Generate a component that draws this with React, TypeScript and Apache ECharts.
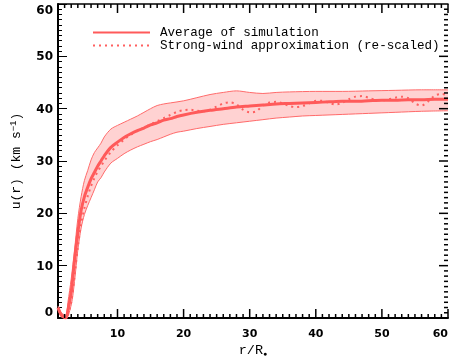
import React, { useEffect, useRef } from "react";
import * as echarts from "echarts";

// r/R* values and u(r) in km/s
const meanCurve: [number, number][] = [
  [1, 2.0], [1.5, 0.6], [2.2, 0], [2.5, 1.5], [3, 5], [3.5, 11], [4, 16.3], [4.5, 20.6], [5, 23.2],
  [5.5, 25], [6, 26.6], [6.5, 27.8], [7, 29], [7.5, 30], [8, 31], [9, 32.6], [10, 33.6], [11, 34.5],
  [12, 35.2], [13, 35.8], [14, 36.3], [15, 36.9], [16, 37.3], [17, 37.8], [18, 38.1], [19, 38.5],
  [20, 38.8], [22, 39.3], [24, 39.7], [26, 40.0], [28, 40.3], [30, 40.5], [32, 40.7], [34, 40.9],
  [36, 41.0], [38, 41.1], [40, 41.2], [42, 41.3], [44, 41.4], [46, 41.4], [48, 41.5], [50, 41.6],
  [52, 41.6], [54, 41.7], [56, 41.7], [58, 41.8], [60, 41.8],
];

const upperBand: [number, number][] = [
  [1, 2.3], [1.5, 1], [2.2, 0.5], [2.5, 3], [3, 7.5], [3.5, 13], [4, 19], [4.5, 23.2], [5, 26.3],
  [5.5, 28.2], [6, 30.2], [6.5, 31.6], [7, 32.5], [7.5, 33.4], [8, 34.6], [9, 36.1], [10, 36.8],
  [11, 37.4], [12, 38], [13, 38.6], [14, 39.3], [15, 40.0], [16, 40.6], [17, 40.9], [18, 41.1],
  [20, 41.5], [22, 42.1], [24, 42.7], [26, 43.1], [28, 43.4], [30, 43.1], [32, 42.9], [34, 43.1],
  [36, 43.2], [40, 43.3], [44, 43.3], [48, 43.4], [52, 43.5], [56, 43.6], [60, 43.6],
];

const lowerBand: [number, number][] = [
  [1, 1.7], [1.5, 0.2], [2.2, 0], [3, 2.5], [3.5, 7], [4, 13], [4.5, 17.2], [5, 19.8], [5.5, 21.5],
  [6, 23], [6.5, 24.5], [7, 26], [7.5, 26.8], [8, 27.9], [9, 29.6], [10, 30.5], [11, 31.4],
  [12, 32.1], [13, 32.7], [14, 33.2], [15, 33.7], [16, 34.1], [17, 34.6], [18, 35.1], [19, 35.5],
  [20, 35.7], [22, 36.2], [24, 36.6], [26, 37.0], [28, 37.3], [30, 37.6], [32, 37.9], [34, 38.2],
  [36, 38.4], [38, 38.6], [40, 38.7], [44, 38.9], [48, 39.1], [52, 39.3], [56, 39.5], [60, 39.6],
];

const strongWind: [number, number][] = [
  [2.5, 0.5], [3, 3], [3.5, 8], [4, 13.5], [4.5, 18], [5, 21], [5.5, 23.3], [6, 25.2], [6.5, 26.7],
  [7, 28], [7.5, 29], [8, 30], [9, 31.7], [10, 33], [11, 34.1], [12, 35], [13, 35.7], [14, 36.4],
  [15, 37], [16, 37.6], [17, 38.2], [18, 38.8], [19, 39.4], [20, 39.7], [21, 39.8], [22, 39.6],
  [23, 39.5], [24, 39.8], [25, 40.4], [26, 41.0], [27, 41.2], [28, 40.8], [29, 39.8], [30, 39.3],
  [31, 39.5], [32, 40.6], [33, 41.2], [34, 41.3], [35, 41.0], [36, 40.5], [37, 40.3], [38, 40.5],
  [39, 41.0], [40, 41.5], [41, 41.5], [42, 41.1], [43, 40.8], [44, 41.1], [45, 41.8], [46, 42.3],
  [47, 42.4], [48, 42.1], [49, 41.7], [50, 41.6], [51, 41.8], [52, 42.1], [53, 42.3], [54, 42.0],
  [55, 41.0], [56, 40.6], [57, 41.4], [58, 42.5], [59, 42.8], [60, 42.6],
];

// Axis ranges and tick values
const X_MIN = 1;
const X_MAX = 60;
const Y_MIN = 0;
const Y_MAX = 60;
const xMajorTicks = [10, 20, 30, 40, 50, 60];
const xMinorTicks: number[] = [];
for (let v = 2; v < 60; v++) if (v % 10 !== 0) xMinorTicks.push(v);
const yMajorTicks = [10, 20, 30, 40, 50];
const yMinorTicks: number[] = [];
for (let v = 1; v < 60; v++) if (v % 10 !== 0) yMinorTicks.push(v);

const seriesNames = ["Average of simulation", "Strong-wind approximation (re-scaled)"];

const RED = "#ff5a5a";
const MONO = "'Liberation Mono', 'DejaVu Sans Mono', monospace";

const MAJOR_LEN = 9;
const MINOR_LEN = 4;
const TICK_W = 1.5;

function buildTickMarks() {
  const out: any[] = [];
  const xt = (vals: number[], len: number) =>
    vals.forEach((v) => {
      out.push({ value: [v, Y_MIN], symbolSize: [TICK_W, len], symbolOffset: [0, -len / 2] });
      out.push({ value: [v, Y_MAX], symbolSize: [TICK_W, len], symbolOffset: [0, len / 2] });
    });
  const yt = (vals: number[], len: number) =>
    vals.forEach((v) => {
      out.push({ value: [X_MAX, v], symbolSize: [len, TICK_W], symbolOffset: [-len / 2, 0] });
    });
  xt(xMajorTicks, MAJOR_LEN);
  xt(xMinorTicks, MINOR_LEN);
  yt(yMajorTicks, MAJOR_LEN);
  yt(yMinorTicks, MINOR_LEN);
  return out;
}

export default function App() {
  const ref = useRef<HTMLDivElement>(null);
  useEffect(() => {
    if (!ref.current) return;
    const chart = echarts.init(ref.current, undefined, { renderer: "svg" });

    chart.setOption({
      animation: false,
      grid: { left: 58, right: 2, top: 4, bottom: 45, outerBoundsMode: "none" },
      legend: {
        orient: "vertical",
        left: 87,
        top: 21,
        itemWidth: 57,
        itemHeight: 14,
        itemGap: 0,
        data: seriesNames,
        itemStyle: { opacity: 0 },
        textStyle: { fontFamily: MONO, fontSize: 12.6, color: "#000", padding: [0, 0, 0, 5] },
        selectedMode: false,
      },
      xAxis: [
        {
          type: "value",
          min: X_MIN,
          max: X_MAX,
          position: "bottom",
          splitLine: { show: false },
          name: "r/R{sub|●}",
          nameLocation: "middle",
          nameGap: 22,
          nameTextStyle: {
            fontFamily: MONO,
            fontSize: 13.5,
            color: "#000",
            rich: { sub: { fontSize: 7, verticalAlign: "bottom", padding: [5, 0, 0, 0], color: "#000" } },
          },
          axisLine: { show: true, onZero: false, lineStyle: { color: "#000", width: 2 } },
          axisTick: { show: false },
          axisLabel: {
            show: true,
            customValues: xMajorTicks,
            alignMaxLabel: "right",
            margin: 10,
            fontFamily: "'DejaVu Sans', sans-serif",
            fontWeight: "bold",
            fontSize: 11,
            color: "#000",
          },
        },
        {
          type: "value",
          min: X_MIN,
          max: X_MAX,
          position: "top",
          splitLine: { show: false },
          axisLine: { show: true, onZero: false, lineStyle: { color: "#000", width: 1.5 } },
          axisTick: { show: false },
          axisLabel: { show: false },
        },
      ],
      yAxis: [
        {
          type: "value",
          position: "left",
          min: Y_MIN,
          max: Y_MAX,
          interval: 10,
          name: "u(r) (km s{sup|−1})",
          nameLocation: "middle",
          nameGap: 34,
          nameTextStyle: {
            fontFamily: MONO,
            fontSize: 13,
            color: "#000",
            rich: { sup: { fontSize: 9, verticalAlign: "top", padding: [0, 0, 6, 0], fontFamily: MONO, color: "#000" } },
          },
          splitLine: { show: false },
          axisLine: { show: true, onZero: false, lineStyle: { color: "#000", width: 2 } },
          axisTick: { show: true, inside: true, length: 9 },
          minorTick: { show: true, splitNumber: 10, length: 4 },
          axisLabel: {
            margin: 5,
            verticalAlignMaxLabel: "top",
            verticalAlignMinLabel: "bottom",
            fontFamily: "'DejaVu Sans', sans-serif",
            fontWeight: "bold",
            fontSize: 12,
            color: "#000",
          },
        },
      ],
      series: [
        {
          type: "custom",
          name: "band",
          silent: true,
          z: 1,
          data: [[upperBand[0][0], upperBand[0][1]]],
          renderItem: (params: any, api: any) => {
            const pts: number[][] = [];
            upperBand.forEach((p) => pts.push(api.coord(p)));
            for (let i = lowerBand.length - 1; i >= 0; i--) pts.push(api.coord(lowerBand[i]));
            return {
              type: "polygon",
              shape: { points: pts, smooth: 0 },
              style: { fill: "#ffd2d2", stroke: "none" },
            };
          },
        },
        {
          type: "line",
          name: "upper",
          data: upperBand,
          symbol: "none",
          smooth: 0.3,
          z: 2,
          lineStyle: { color: "#ff6a6a", width: 1 },
          itemStyle: { color: "#ff6a6a" },
        },
        {
          type: "line",
          name: "lower",
          data: lowerBand,
          symbol: "none",
          smooth: 0.3,
          z: 2,
          lineStyle: { color: "#ff6a6a", width: 1 },
          itemStyle: { color: "#ff6a6a" },
        },
        {
          type: "line",
          name: seriesNames[1],
          data: strongWind,
          symbol: "none",
          smooth: 0.3,
          z: 3,
          lineStyle: { color: "#ff6060", width: 2, type: [2, 4] },
          itemStyle: { color: "#ff6060" },
        },
        {
          type: "line",
          name: seriesNames[0],
          data: meanCurve,
          symbol: "none",
          smooth: 0.3,
          z: 4,
          lineStyle: { color: RED, width: 3 },
          itemStyle: { color: RED },
        },
        {
          type: "scatter",
          name: "ticks",
          silent: true,
          clip: false,
          z: 10,
          symbol: "rect",
          itemStyle: { color: "#000", opacity: 1 },
          data: buildTickMarks(),
        },
      ],
    });
    return () => chart.dispose();
  }, []);
  return (
    <div ref={ref} style={{ position: "fixed", left: 0, top: 0, width: 450, height: 363 }} />
  );
}
